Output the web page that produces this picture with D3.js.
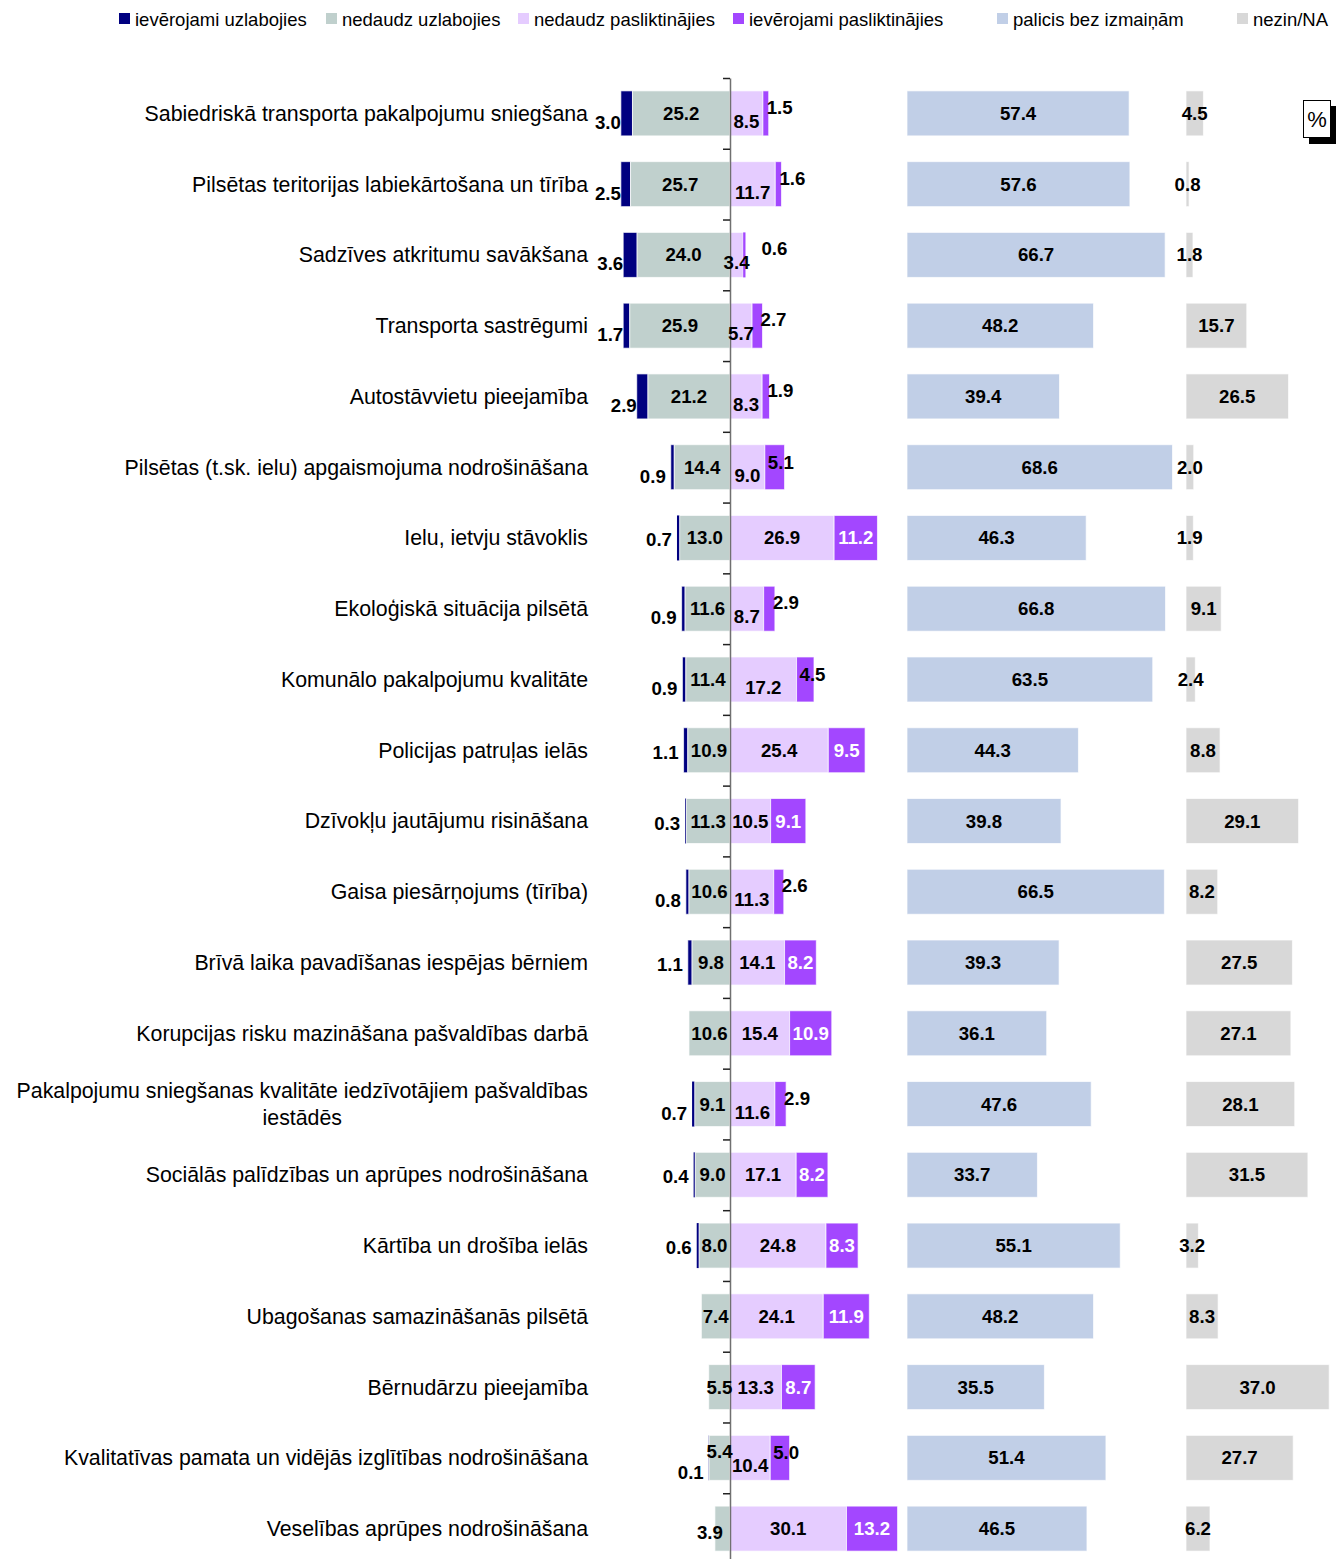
<!DOCTYPE html>
<html>
<head>
<meta charset="utf-8">
<script src="https://cdn.jsdelivr.net/npm/d3@7/dist/d3.min.js"></script>
<style>
  html, body { margin: 0; padding: 0; background: #fff; }
  svg { display: block; font-family: "Liberation Sans", Arial, sans-serif; }
</style>
</head>
<body>
<svg id="chart" width="1344" height="1559"></svg>
<script>
// ---------------- DATA ----------------
const categories = [
  "Sabiedriskā transporta pakalpojumu sniegšana",
  "Pilsētas teritorijas labiekārtošana un tīrība",
  "Sadzīves atkritumu savākšana",
  "Transporta sastrēgumi",
  "Autostāvvietu pieejamība",
  "Pilsētas (t.sk. ielu) apgaismojuma nodrošināšana",
  "Ielu, ietvju stāvoklis",
  "Ekoloģiskā situācija pilsētā",
  "Komunālo pakalpojumu kvalitāte",
  "Policijas patruļas ielās",
  "Dzīvokļu jautājumu risināšana",
  "Gaisa piesārņojums (tīrība)",
  "Brīvā laika pavadīšanas iespējas bērniem",
  "Korupcijas risku mazināšana pašvaldības darbā",
  "Pakalpojumu sniegšanas kvalitāte iedzīvotājiem pašvaldības iestādēs",
  "Sociālās palīdzības un aprūpes nodrošināšana",
  "Kārtība un drošība ielās",
  "Ubagošanas samazināšanās pilsētā",
  "Bērnudārzu pieejamība",
  "Kvalitatīvas pamata un vidējās izglītības nodrošināšana",
  "Veselības aprūpes nodrošināšana"
];
const seriesNames = ["ievērojami uzlabojies", "nedaudz uzlabojies", "nedaudz pasliktinājies",
                     "ievērojami pasliktinājies", "palicis bez izmaiņām", "nezin/NA"];
const muchBetter   = [3.0, 2.5, 3.6, 1.7, 2.9, 0.9, 0.7, 0.9, 0.9, 1.1, 0.3, 0.8, 1.1, 0, 0.7, 0.4, 0.6, 0, 0, 0.1, 0];
const littleBetter = [25.2, 25.7, 24.0, 25.9, 21.2, 14.4, 13.0, 11.6, 11.4, 10.9, 11.3, 10.6, 9.8, 10.6, 9.1, 9.0, 8.0, 7.4, 5.5, 5.4, 3.9];
const littleWorse  = [8.5, 11.7, 3.4, 5.7, 8.3, 9.0, 26.9, 8.7, 17.2, 25.4, 10.5, 11.3, 14.1, 15.4, 11.6, 17.1, 24.8, 24.1, 13.3, 10.4, 30.1];
const muchWorse    = [1.5, 1.6, 0.6, 2.7, 1.9, 5.1, 11.2, 2.9, 4.5, 9.5, 9.1, 2.6, 8.2, 10.9, 2.9, 8.2, 8.3, 11.9, 8.7, 5.0, 13.2];
const unchanged    = [57.4, 57.6, 66.7, 48.2, 39.4, 68.6, 46.3, 66.8, 63.5, 44.3, 39.8, 66.5, 39.3, 36.1, 47.6, 33.7, 55.1, 48.2, 35.5, 51.4, 46.5];
const dontKnow     = [4.5, 0.8, 1.8, 15.7, 26.5, 2.0, 1.9, 9.1, 2.4, 8.8, 29.1, 8.2, 27.5, 27.1, 28.1, 31.5, 3.2, 8.3, 37.0, 27.7, 6.2];
const unitLabel = "%";

// ---------------- STYLE / LAYOUT ----------------
const colors = ["#000080", "#C0D0CD", "#E5CCFF", "#A347FF", "#C1CFE7", "#D8D8D8"];
const PX = 3.87;               // pixels per percentage point
const center = 730;
const fmt = d3.format(".1f");

const svg = d3.select("#chart");

const xDiv = d3.scaleLinear().domain([-30, 45]).range([center - 30 * PX, center + 45 * PX]);
const xUn  = d3.scaleLinear().domain([0, 72]).range([907, 907 + 72 * PX]);
const xDk  = d3.scaleLinear().domain([0, 40]).range([1186, 1186 + 40 * PX]);
const y = d3.scaleBand().domain(categories).range([78, 1564]).paddingInner(0.364).paddingOuter(0.182);
const bw = y.bandwidth();

const rows = categories.map((c, i) => ({
  c, i,
  mb: muchBetter[i], lb: littleBetter[i], lw: littleWorse[i], mw: muchWorse[i],
  un: unchanged[i], dk: dontKnow[i]
}));

// ---------------- LEGEND ----------------
const legendX = [119, 326, 518, 733, 997, 1237];
const lg = svg.append("g");
seriesNames.forEach((n, k) => {
  lg.append("rect").attr("x", legendX[k]).attr("y", 13).attr("width", 11).attr("height", 11)
    .attr("fill", colors[k]);
  lg.append("text").attr("x", legendX[k] + 16).attr("y", 25.5)
    .attr("font-size", "18.5px").attr("fill", "#000").text(n);
});

// ---------------- BARS ----------------
const gBars = svg.append("g");
function seg(x0, x1, yy, col) {
  gBars.append("rect")
    .attr("x", Math.min(x0, x1)).attr("y", yy)
    .attr("width", Math.abs(x1 - x0)).attr("height", bw)
    .attr("fill", col)
    .attr("stroke", Math.abs(x1 - x0) > 3 ? "rgba(255,255,255,0.7)" : "none")
    .attr("stroke-width", 1);
}
rows.forEach(r => {
  const yy = y(r.c);
  if (r.mb > 0) seg(xDiv(-(r.mb + r.lb)), xDiv(-r.lb), yy, colors[0]);
  seg(xDiv(-r.lb), xDiv(0), yy, colors[1]);
  seg(xDiv(0), xDiv(r.lw), yy, colors[2]);
  seg(xDiv(r.lw), xDiv(r.lw + r.mw), yy, colors[3]);
  seg(xUn(0), xUn(r.un), yy, colors[4]);
  seg(xDk(0), xDk(r.dk), yy, colors[5]);
});

// ---------------- AXIS ----------------
const yIdx = d3.scaleLinear().domain([0, categories.length]).range([78, 1564]);
const axis = svg.append("g").attr("transform", `translate(${xDiv(0)},0)`)
  .call(d3.axisLeft(yIdx).tickValues(d3.range(0, categories.length + 1)).tickSize(7).tickSizeOuter(0).tickFormat(""));
axis.select(".domain").attr("stroke", "#707070").attr("stroke-width", 1.5);
axis.selectAll(".tick line").attr("stroke", "#222").attr("stroke-width", 1.5);

// ---------------- VALUE LABELS ----------------
const gLab = svg.append("g").attr("font-size", "18.67px").attr("font-weight", "bold");
function lab(x, yy, txt, anchor, dy, col) {
  gLab.append("text").attr("x", x).attr("y", yy + dy).attr("dy", "0.35em")
    .attr("text-anchor", anchor).attr("fill", col || "#000").text(txt);
}
rows.forEach(r => {
  const cy = y(r.c) + bw / 2;
  const crowded = r.mw < 8;
  // much better (navy)
  let navyDy = crowded ? 9 : 2;
  let greyDy = 0;
  if (r.mb > 0 && r.mb < 0.5 && r.lb < 6) { navyDy = 15; greyDy = -6; }
  if (r.mb > 0) lab(xDiv(-(r.mb + r.lb)) + (r.mb >= 1.5 ? 0 : -5), cy, fmt(r.mb), "end", navyDy);
  // little better (grey)
  if (r.lb < 5) lab(xDiv(-r.lb) + 8, cy, fmt(r.lb), "end", 4);
  else lab((xDiv(-r.lb) + xDiv(0)) / 2, cy, fmt(r.lb), "middle", greyDy);
  // little worse (lilac)
  lab((xDiv(0) + xDiv(r.lw)) / 2, cy, fmt(r.lw), "middle", (crowded && r.lw < 20) ? 8 : 0);
  // much worse (purple)
  const ps = xDiv(r.lw), pe = xDiv(r.lw + r.mw);
  if (r.mw >= 8) lab((ps + pe) / 2, cy, fmt(r.mw), "middle", 0, "#fff");
  else if (r.mw >= 4) lab(ps + 3, cy, fmt(r.mw), "start", -5);
  else if (r.mw < 1) lab(pe + 16, cy, fmt(r.mw), "start", -6);
  else lab(pe - 2, cy, fmt(r.mw), "start", -6);
  // unchanged
  lab((xUn(0) + xUn(r.un)) / 2, cy, fmt(r.un), "middle", 0);
  // don't know
  lab((xDk(0) + xDk(r.dk)) / 2, cy, fmt(r.dk), "middle", 0);
});

// ---------------- CATEGORY LABELS ----------------
const gCat = svg.append("g").attr("font-size", "21.33px").attr("fill", "#000");
const labelRight = 588, maxW = 580, lineH = 27;
rows.forEach(r => {
  const cy = y(r.c) + bw / 2;
  const t = gCat.append("text").attr("text-anchor", "middle");
  // word wrap
  const words = r.c.split(" ");
  const lines = [];
  let cur = [];
  const probe = t.append("tspan");
  words.forEach(w => {
    const test = cur.concat([w]).join(" ");
    probe.text(test);
    if (probe.node().getComputedTextLength() > maxW && cur.length) {
      lines.push(cur.join(" ")); cur = [w];
    } else cur.push(w);
  });
  lines.push(cur.join(" "));
  probe.remove();
  let blockW = 0;
  lines.forEach(l => {
    const s = t.append("tspan").text(l);
    blockW = Math.max(blockW, s.node().getComputedTextLength());
    s.remove();
  });
  const cx = labelRight - blockW / 2;
  const y0 = cy - (lines.length - 1) * lineH / 2;
  lines.forEach((l, k) => {
    t.append("tspan").attr("x", cx).attr("y", y0 + k * lineH).attr("dy", "0.35em").text(l);
  });
});

// ---------------- % BOX ----------------
const ub = svg.append("g");
ub.append("rect").attr("x", 1309).attr("y", 106).attr("width", 27).attr("height", 38).attr("fill", "#000");
ub.append("rect").attr("x", 1303.5).attr("y", 100.5).attr("width", 27).attr("height", 37)
  .attr("fill", "#fff").attr("stroke", "#000").attr("stroke-width", 1);
ub.append("text").attr("x", 1317).attr("y", 119).attr("dy", "0.35em").attr("text-anchor", "middle")
  .attr("font-size", "22px").text(unitLabel);
</script>
</body>
</html>
